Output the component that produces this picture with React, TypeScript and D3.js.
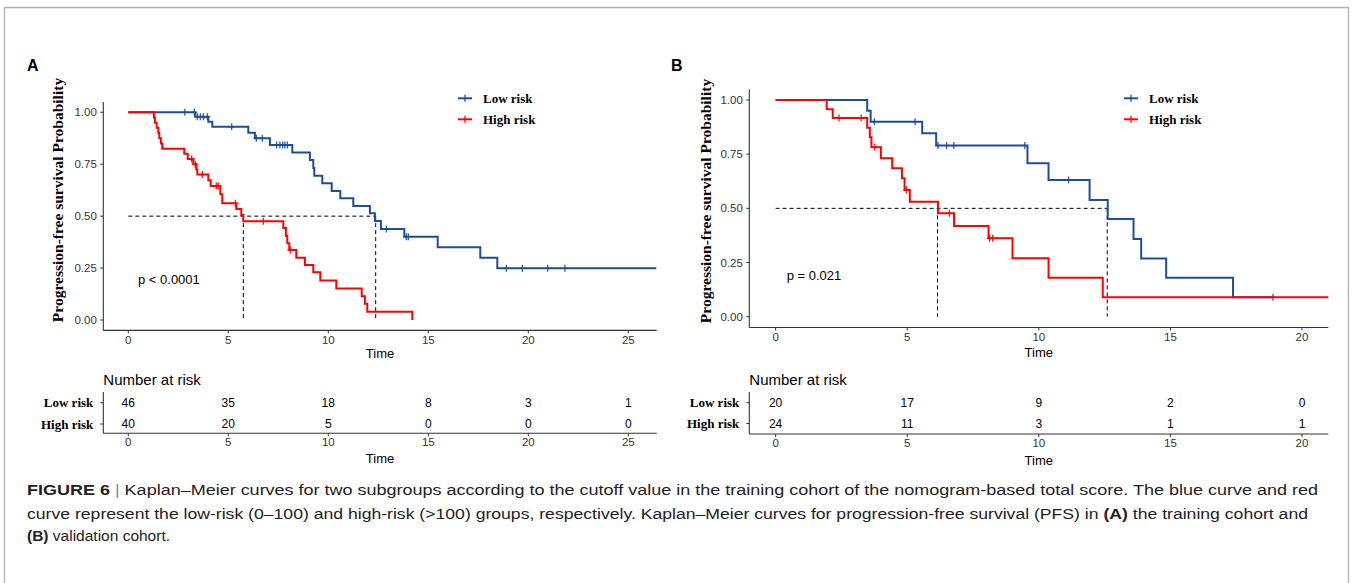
import React from 'react';
import * as d3 from 'd3';

// ---------- data ----------
const groups = ['Low risk', 'High risk'];
const survTicks = [0, 0.25, 0.5, 0.75, 1];
const timeTicksA = [0, 5, 10, 15, 20, 25];
const timeTicksB = [0, 5, 10, 15, 20];

// Panel A – training cohort
const aLowTimes = [0, 3.35, 4.0, 4.2, 6.0, 6.33, 7.08, 8.2, 9.08, 9.25, 9.3, 9.7, 10.17, 10.6, 11.25, 12.08, 12.33, 12.63, 13.8, 15.47, 17.6, 18.45];
const aLowSurv = [1, 0.978, 0.955, 0.93, 0.902, 0.875, 0.843, 0.807, 0.77, 0.732, 0.695, 0.658, 0.621, 0.586, 0.549, 0.514, 0.477, 0.438, 0.401, 0.35, 0.3, 0.249];
const aLowEnd = 26.4;
const aLowCensor = [2.83, 3.3, 3.45, 3.6, 3.75, 3.95, 5.17, 6.4, 6.7, 7.42, 7.58, 7.72, 7.83, 7.95, 12.9, 13.9, 14.0, 18.9, 19.7, 20.97, 21.83];

const aHighTimes = [0, 1.28, 1.33, 1.42, 1.5, 1.55, 1.63, 1.7, 2.8, 2.97, 3.25, 3.4, 3.45, 4.0, 4.12, 4.6, 4.7, 5.4, 5.65, 5.75, 7.75, 7.88, 7.95, 8.05, 8.4, 8.83, 9.25, 9.6, 10.4, 11.67, 11.83, 11.95, 14.2];
const aHighSurv = [1, 0.975, 0.95, 0.925, 0.9, 0.875, 0.85, 0.825, 0.8, 0.775, 0.75, 0.725, 0.7, 0.673, 0.645, 0.605, 0.562, 0.534, 0.505, 0.475, 0.443, 0.405, 0.37, 0.337, 0.3, 0.265, 0.23, 0.19, 0.152, 0.115, 0.078, 0.04, 0];
const aHighEnd = 14.2;
const aHighCensor = [3.17, 3.35, 3.7, 4.4, 4.5, 5.35, 6.75, 8.1];

const aMedians = [12.37, 5.75];
const aRiskLow = [46, 35, 18, 8, 3, 1];
const aRiskHigh = [40, 20, 5, 0, 0, 0];
const aPValue = 'p < 0.0001';

// Panel B – validation cohort
const bLowTimes = [0, 3.48, 3.61, 5.57, 6.1, 9.57, 10.37, 11.93, 12.62, 13.6, 13.89, 14.84, 17.38];
const bLowSurv = [1, 0.95, 0.9, 0.847, 0.79, 0.708, 0.631, 0.539, 0.451, 0.359, 0.269, 0.18, 0.09];
const bLowEnd = 18.9;
const bLowCensor = [3.75, 5.3, 6.17, 6.5, 6.77, 9.47, 11.13, 18.9];

const bHighTimes = [0, 1.94, 2.17, 3.48, 3.58, 3.64, 4.0, 4.43, 4.8, 4.9, 5.1, 6.17, 6.78, 8.09, 9.0, 10.37, 12.43];
const bHighSurv = [1, 0.958, 0.917, 0.872, 0.828, 0.782, 0.731, 0.685, 0.639, 0.585, 0.531, 0.477, 0.419, 0.362, 0.27, 0.18, 0.09];
const bHighEnd = 21.0;
const bHighCensor = [2.41, 3.25, 3.77, 4.97, 6.6, 8.13, 8.25];

const bMedians = [12.6, 6.15];
const bRiskLow = [20, 17, 9, 2, 0];
const bRiskHigh = [24, 11, 3, 1, 1];
const bPValue = 'p = 0.021';

const captionLine1 = ['FIGURE 6', ' | ', 'Kaplan\u2013Meier curves for two subgroups according to the cutoff value in the training cohort of the nomogram-based total score. The blue curve and red'];
const captionLine2 = ['curve represent the low-risk (0\u2013100) and high-risk (>100) groups, respectively. Kaplan\u2013Meier curves for progression-free survival (PFS) in ', '(A)', ' the training cohort and'];
const captionLine3 = ['(B)', ' validation cohort.'];

// ---------- styles ----------
const BLUE = '#1C4E9C';
const RED = '#FF0000';
const SANS = '"Liberation Sans", Arial, Helvetica, sans-serif';
const SERIF = '"Liberation Serif", "Times New Roman", serif';
const colors = [BLUE, RED];

type Curve = { times: number[]; surv: number[]; end: number; censor: number[] };

function stepValue(c: Curve, t: number) {
  let v = c.surv[0];
  for (let i = 0; i < c.times.length; i++) if (c.times[i] <= t) v = c.surv[i];
  return v;
}

type PanelProps = {
  label: string;
  curves: Curve[];
  medians: number[];
  riskLow: number[];
  riskHigh: number[];
  ticks: number[];
  pValue: string;
  xDomain: [number, number];
  xRange: [number, number];
  yRange: [number, number];
  labelX: number;
  yLabelX: number;
  yLabelY: number;
  legendX: number;
  pX: number;
  pY: number;
  tableTop: number;
  tableAxisY: number;
  rowY: number[];
  numberAtRiskY: number;
  xTickY: number;
  timeY: number;
  tableTickY: number;
  tableTimeY: number;
};

function Panel(p: PanelProps) {
  const x = d3.scaleLinear().domain(p.xDomain).range(p.xRange);
  const y = d3.scaleLinear().domain([-0.05, 1.05]).range(p.yRange);
  const line = d3
    .line<[number, number]>()
    .x((d) => x(d[0]))
    .y((d) => y(d[1]))
    .curve(d3.curveStepAfter);
  const axisY = y(-0.05);
  const axisX = x(p.xDomain[0]);
  const axisRight = x(p.xDomain[1]);
  const midX = (axisX + axisRight) / 2;
  const maxMed = d3.max(p.medians) as number;
  const riskRows = [p.riskLow, p.riskHigh];

  return (
    <g>
      <text x={p.labelX} y={65} fontFamily={SANS} fontWeight="bold" fontSize={16} dominantBaseline="central">
        {p.label}
      </text>
      {/* y label */}
      <text
        transform={`translate(${p.yLabelX},${p.yLabelY}) rotate(-90)`}
        textAnchor="middle"
        dominantBaseline="central"
        fontFamily={SERIF}
        fontWeight="bold"
        fontSize={15.5}
        fill="#000"
      >
        Progression-free survival Probability
      </text>
      {/* axes */}
      <line x1={axisX} x2={axisX} y1={y(1.05)} y2={axisY} stroke="#333" strokeWidth={1.1} />
      <line x1={axisX} x2={axisRight} y1={axisY} y2={axisY} stroke="#333" strokeWidth={1.1} />
      {survTicks.map((t) => (
        <g key={'yt' + t}>
          <line x1={axisX - 3} x2={axisX} y1={y(t)} y2={y(t)} stroke="#333" strokeWidth={1} />
          <text x={axisX - 6.5} y={y(t)} textAnchor="end" dominantBaseline="central" fontFamily={SANS} fontSize={11.5} fill="#333">
            {d3.format('.2f')(t)}
          </text>
        </g>
      ))}
      {p.ticks.map((t) => (
        <g key={'xt' + t}>
          <line x1={x(t)} x2={x(t)} y1={axisY} y2={axisY + 3} stroke="#333" strokeWidth={1} />
          <text x={x(t)} y={p.xTickY} textAnchor="middle" dominantBaseline="central" fontFamily={SANS} fontSize={11.5} fill="#333">
            {t}
          </text>
        </g>
      ))}
      <text x={midX} y={p.timeY} textAnchor="middle" dominantBaseline="central" fontFamily={SANS} fontSize={13} fill="#000">
        Time
      </text>
      {/* median lines */}
      <line x1={x(0)} x2={x(maxMed)} y1={y(0.5)} y2={y(0.5)} stroke="#000" strokeWidth={1} strokeDasharray="4,3" />
      {p.medians.map((m, i) => (
        <line key={'m' + i} x1={x(m)} x2={x(m)} y1={y(0.5)} y2={y(0)} stroke="#000" strokeWidth={1} strokeDasharray="4,3" />
      ))}
      {/* curves */}
      {p.curves.map((c, i) => {
        const pts: [number, number][] = c.times.map((t, j) => [t, c.surv[j]] as [number, number]);
        if (c.end > c.times[c.times.length - 1]) pts.push([c.end, c.surv[c.surv.length - 1]]);
        return (
          <g key={'c' + i}>
            <path d={line(pts) || ''} fill="none" stroke={colors[i]} strokeWidth={2} />
            {c.censor.map((t, k) => {
              const cx = x(t);
              const cy = y(stepValue(c, t));
              return (
                <g key={k} stroke={colors[i]} strokeWidth={1.2}>
                  <line x1={cx} x2={cx} y1={cy - 3.5} y2={cy + 3.5} />
                  <line x1={cx - 3} x2={cx + 3} y1={cy} y2={cy} />
                </g>
              );
            })}
          </g>
        );
      })}
      {/* p value */}
      <text x={p.pX} y={p.pY} dominantBaseline="central" fontFamily={SANS} fontSize={13} fill="#000">
        {p.pValue}
      </text>
      {/* legend */}
      {groups.map((g, i) => {
        const ly = 98.3 + i * 21;
        return (
          <g key={'lg' + i}>
            <line x1={p.legendX} x2={p.legendX + 14} y1={ly} y2={ly} stroke={colors[i]} strokeWidth={2} />
            <line x1={p.legendX + 7} x2={p.legendX + 7} y1={ly - 3.5} y2={ly + 3.5} stroke={colors[i]} strokeWidth={1.3} />
            <text x={p.legendX + 25} y={ly} dominantBaseline="central" fontFamily={SERIF} fontWeight="bold" fontSize={13} fill="#000">
              {g}
            </text>
          </g>
        );
      })}
      {/* risk table */}
      <text x={axisX} y={p.numberAtRiskY} dominantBaseline="central" fontFamily={SANS} fontSize={15} fill="#000">
        Number at risk
      </text>
      <line x1={axisX} x2={axisX} y1={p.tableTop} y2={p.tableAxisY} stroke="#333" strokeWidth={1.1} />
      <line x1={axisX} x2={axisRight} y1={p.tableAxisY} y2={p.tableAxisY} stroke="#333" strokeWidth={1.1} />
      {groups.map((g, i) => (
        <g key={'row' + i}>
          <line x1={axisX - 3} x2={axisX} y1={p.rowY[i]} y2={p.rowY[i]} stroke="#333" strokeWidth={1} />
          <text x={axisX - 10} y={p.rowY[i]} textAnchor="end" dominantBaseline="central" fontFamily={SERIF} fontWeight="bold" fontSize={13} fill="#000">
            {g}
          </text>
          {riskRows[i].map((n, k) => (
            <text key={k} x={x(p.ticks[k])} y={p.rowY[i]} textAnchor="middle" dominantBaseline="central" fontFamily={SANS} fontSize={12} fill="#000">
              {n}
            </text>
          ))}
        </g>
      ))}
      {p.ticks.map((t) => (
        <g key={'tt' + t}>
          <line x1={x(t)} x2={x(t)} y1={p.tableAxisY} y2={p.tableAxisY + 3} stroke="#333" strokeWidth={1} />
          <text x={x(t)} y={p.tableTickY} textAnchor="middle" dominantBaseline="central" fontFamily={SANS} fontSize={11.5} fill="#333">
            {t}
          </text>
        </g>
      ))}
      <text x={midX} y={p.tableTimeY} textAnchor="middle" dominantBaseline="central" fontFamily={SANS} fontSize={13} fill="#000">
        Time
      </text>
    </g>
  );
}

export default function App() {
  const curvesA: Curve[] = [
    { times: aLowTimes, surv: aLowSurv, end: aLowEnd, censor: aLowCensor },
    { times: aHighTimes, surv: aHighSurv, end: aHighEnd, censor: aHighCensor },
  ];
  const curvesB: Curve[] = [
    { times: bLowTimes, surv: bLowSurv, end: bLowEnd, censor: bLowCensor },
    { times: bHighTimes, surv: bHighSurv, end: bHighEnd, censor: bHighCensor },
  ];
  return (
    <svg width={1352} height={583} style={{ position: 'absolute', left: 0, top: 0, background: '#fff' }}>
      <rect x={0} y={0} width={1352} height={583} fill="#fff" />
      <path d="M4.5,590 V7.5 H1348.5 V590" fill="none" stroke="#b0b0b0" strokeWidth={1.3} />
      <Panel
        label="A"
        curves={curvesA}
        medians={aMedians}
        riskLow={aRiskLow}
        riskHigh={aRiskHigh}
        ticks={timeTicksA}
        pValue={aPValue}
        xDomain={[-1.25, 26.42]}
        xRange={[103.3, 656.7]}
        yRange={[330.4, 101.9]}
        labelX={27}
        yLabelX={57}
        yLabelY={200}
        legendX={458}
        pX={138}
        pY={279}
        tableTop={392}
        tableAxisY={433.3}
        rowY={[402.7, 424]}
        numberAtRiskY={379}
        xTickY={340}
        timeY={353}
        tableTickY={442}
        tableTimeY={458}
      />
      <Panel
        label="B"
        curves={curvesB}
        medians={bMedians}
        riskLow={bRiskLow}
        riskHigh={bRiskHigh}
        ticks={timeTicksB}
        pValue={bPValue}
        xDomain={[-1.0, 21.0]}
        xRange={[749.3, 1328.3]}
        yRange={[327.5, 89.2]}
        labelX={671}
        yLabelX={705}
        yLabelY={201}
        legendX={1124}
        pX={786.7}
        pY={275}
        tableTop={392}
        tableAxisY={434}
        rowY={[402.7, 423.5]}
        numberAtRiskY={379}
        xTickY={337}
        timeY={352}
        tableTickY={443}
        tableTimeY={460}
      />
      {/* caption */}
      <g fontFamily={SANS} fontSize={15.5} fill="#222">
        <text x={27} y={495} textLength={1291} lengthAdjust="spacingAndGlyphs">
          <tspan fontWeight="bold">{captionLine1[0]}</tspan>
          <tspan fill="#888">{captionLine1[1]}</tspan>
          <tspan>{captionLine1[2]}</tspan>
        </text>
        <text x={27} y={519} textLength={1281} lengthAdjust="spacingAndGlyphs">
          <tspan>{captionLine2[0]}</tspan>
          <tspan fontWeight="bold">{captionLine2[1]}</tspan>
          <tspan>{captionLine2[2]}</tspan>
        </text>
        <text x={27} y={541}>
          <tspan fontWeight="bold">{captionLine3[0]}</tspan>
          <tspan>{captionLine3[1]}</tspan>
        </text>
      </g>
    </svg>
  );
}
